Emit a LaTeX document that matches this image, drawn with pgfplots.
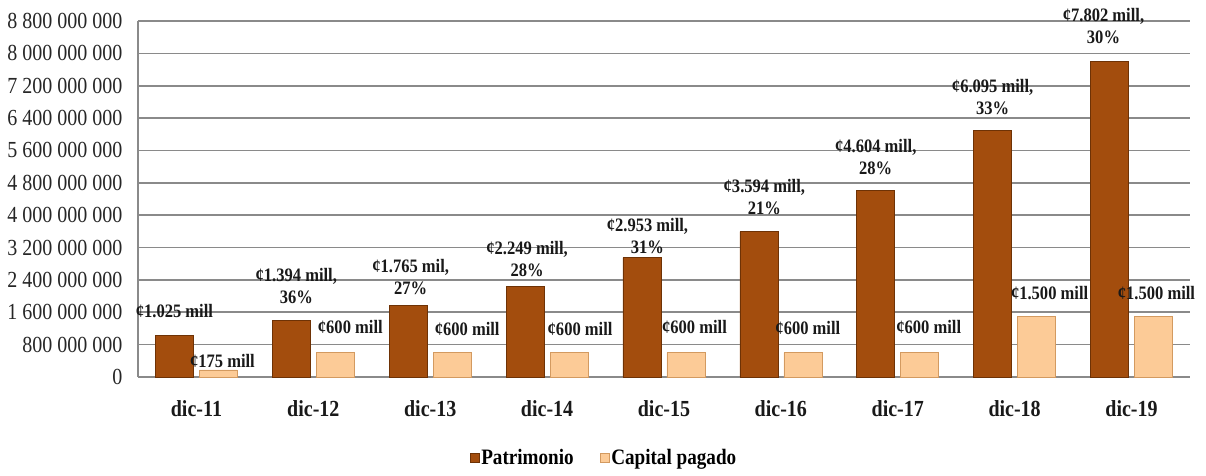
\documentclass[border=0pt]{standalone}
\usepackage{fontspec}
\setmainfont{Liberation Serif}[FakeStretch=0.87]
\usepackage{pgfplots}
\usepackage{pgfplotstable}
\pgfplotsset{compat=1.18}
\definecolor{patr}{HTML}{A34D0D}
\definecolor{patrd}{HTML}{6E3205}
\definecolor{cap}{HTML}{FCCB97}
\definecolor{capd}{HTML}{D39A60}
\definecolor{gridc}{HTML}{8A8A8A}

\pgfplotstableread{
x y label dx yo
0 1025 {¢1.025 mill} 0 17.5
1 1394 {¢1.394 mill,\\36\%} 5 17
2 1765 {¢1.765 mil,\\27\%} 2.5 11
3 2249 {¢2.249 mill,\\28\%} 2 9
4 2953 {¢2.953 mill,\\31\%} 5.5 4
5 3594 {¢3.594 mill,\\21\%} 5.5 17
6 4604 {¢4.604 mill,\\28\%} 0 16
7 6095 {¢6.095 mill,\\33\%} 0 16
8 7802 {¢7.802 mill,\\30\%} -6 18
}\patrtab

\pgfplotstableread{
x y label dx yo
0 175 {¢175 mill} 4 2
1 600 {¢600 mill} 15 19
2 600 {¢600 mill} 15 17
3 600 {¢600 mill} 11 17
4 600 {¢600 mill} 8.5 19
5 600 {¢600 mill} 5 18
6 600 {¢600 mill} 9 19
7 1500 {¢1.500 mill} 13 17
8 1500 {¢1.500 mill} 3 17
}\captab

\begin{document}
\begin{tikzpicture}
\begin{axis}[
  at={(0,0)}, anchor=south west,
  scale only axis,
  width=1052pt, height=356pt,
  ybar, bar width=38pt,
  xmin=-0.5, xmax=8.5,
  ymin=0, ymax=8800,
  xtick={0,...,8},
  xticklabels={dic-11,dic-12,dic-13,dic-14,dic-15,dic-16,dic-17,dic-18,dic-19},
  ytick={0,800,...,8800},
  yticklabels={0,800 000 000,1 600 000 000,2 400 000 000,3 200 000 000,4 000 000 000,4 800 000 000,5 600 000 000,6 400 000 000,7 200 000 000,8 000 000 000,8 800 000 000},
  major tick length=0pt,
  axis x line*=bottom, axis y line*=left,
  axis line style={gridc, line width=1.7pt, -},
  ymajorgrids, major grid style={gridc, line width=1.7pt},
  yticklabel style={font=\fontsize{23}{26}\selectfont, text=black!85, xshift=-12pt},
  xticklabel style={font=\fontsize{23}{26}\selectfont\bfseries, text=black!90, yshift=-20pt},
  legend style={at={(0.443,-0.2275)}, anchor=center, draw=none, fill=none,
    font=\fontsize{22}{25}\selectfont\bfseries, legend columns=2,
    /tikz/every even column/.append style={column sep=24pt}},
  legend image code/.code={\draw[#1, line width=0.5pt] (0pt,-4.5pt) rectangle (9pt,4.5pt);},
  clip=false,
]
\addplot[fill=patr, draw=patrd, line width=0.6pt, bar shift=-22pt,
  point meta=explicit symbolic,
  visualization depends on={\thisrow{dx} \as \dxv},
  visualization depends on={\thisrow{yo} \as \yov},
  nodes near coords,
  nodes near coords style={anchor=south, inner sep=0pt, text depth=0pt, align=center,
     font=\fontsize{19}{22}\selectfont\bfseries, text=black!90,
     xshift=\dxv pt, yshift=\yov pt}]
  table[x=x, y=y, meta=label] {\patrtab};
\addlegendentry{Patrimonio}
\addplot[fill=cap, draw=capd, line width=0.6pt, bar shift=22pt,
  point meta=explicit symbolic,
  visualization depends on={\thisrow{dx} \as \dxv},
  visualization depends on={\thisrow{yo} \as \yov},
  nodes near coords,
  nodes near coords style={anchor=south, inner sep=0pt, text depth=0pt, align=center,
     font=\fontsize{19}{22}\selectfont\bfseries, text=black!90,
     xshift=\dxv pt, yshift=\yov pt}]
  table[x=x, y=y, meta=label] {\captab};
\addlegendentry{Capital pagado}
\end{axis}
\pgfresetboundingbox
\path[use as bounding box] (-138pt,-98pt) rectangle (1068pt,377pt);
\end{tikzpicture}
\end{document}
